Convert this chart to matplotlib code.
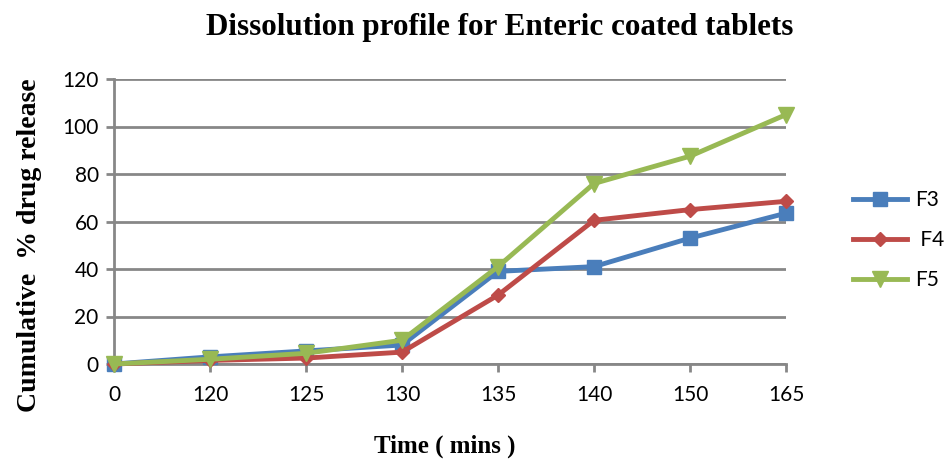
import numpy as np
import matplotlib
matplotlib.use('Agg')
import matplotlib.pyplot as plt

# time points (mins) and cumulative release for the three formulations
time_labels = ['0', '120', '125', '130', '135', '140', '150', '165']
f3 = [0, 3, 5.5, 8, 39, 41, 53, 63.5]
f4 = [0, 1.5, 2.5, 5, 29, 60.5, 65, 68.5]
f5 = [0, 2, 4.5, 10, 41, 76, 87.5, 105]

grid_col = '#878787'
serif = 'Liberation Serif'
sizefont = 15

fig = plt.figure(figsize=(9.51, 4.59), dpi=100)
ax = fig.add_axes([114/951, 1-364/459, (786-114)/951, (364-79)/459])

x = np.arange(len(time_labels))
ax.plot(x, f3, color='#4A7EBB', lw=3.5, marker='s', ms=9.5, label='F3', clip_on=False, zorder=3)
ax.plot(x, f4, color='#BE4B48', lw=3.5, marker='D', ms=7.5, label=' F4', clip_on=False, zorder=3)
ax.plot(x, f5, color='#98B954', lw=3.5, marker='v', ms=11, label='F5', clip_on=False, zorder=3)

ax.set_xlim(0, len(time_labels)-1)
ax.set_ylim(0, 120)
ax.set_yticks(np.arange(0, 121, 20))
ax.set_xticks(x)
ax.set_xticklabels(time_labels)
ax.yaxis.grid(True, color=grid_col, lw=2)
ax.set_axisbelow(True)
for s in ['top', 'right']:
    ax.spines[s].set_visible(False)
for s in ['left', 'bottom']:
    ax.spines[s].set_color(grid_col)
    ax.spines[s].set_linewidth(2)
ax.tick_params(axis='both', colors=grid_col, width=2, length=6, labelcolor='black',
               labelsize=sizefont)
ax.tick_params(axis='y', pad=5)
ax.tick_params(axis='x', pad=9)
for lab in ax.get_xticklabels() + ax.get_yticklabels():
    lab.set_family('Lato')

fig.text(500/951, 1-28/459, 'Dissolution profile for Enteric coated tablets', ha='center', va='center',
         family=serif, weight='bold', size=22.4)
fig.text(445/951, 1-446/459, 'Time ( mins )', ha='center', va='center',
         family=serif, weight='bold', size=18)
fig.text(30/951, 1-245/459, 'Cumulative  % drug release', ha='center', va='center', rotation=90,
         family=serif, weight='bold', size=20)

leg = fig.legend(loc='center left', bbox_to_anchor=(0.877, 0.477), frameon=False,
                 prop={'family': 'Lato', 'size': sizefont}, handlelength=2.6, labelspacing=0.95,
                 handletextpad=0.4)

fig.savefig('out.png', dpi=100)
